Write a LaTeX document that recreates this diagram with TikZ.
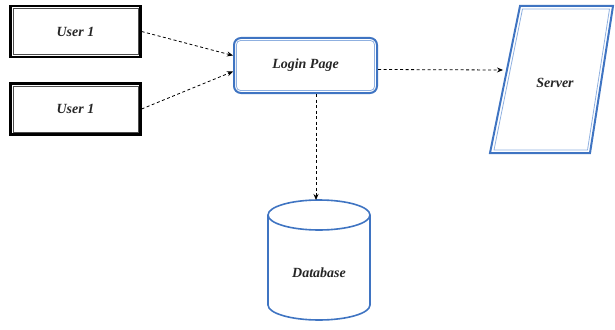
\documentclass[tikz,border=0pt]{standalone}
\usepackage{fontspec}
\setmainfont{Liberation Serif}
\usetikzlibrary{arrows.meta}
\definecolor{bl}{HTML}{3F74C2}
\definecolor{lightbl}{HTML}{8FB0E0}
\tikzset{
  lbl/.style={font=\bfseries\itshape\fontsize{14}{16}\selectfont, text=black!85},
  userbox/.style={draw=black, line width=2.2pt, minimum width=130pt, minimum height=51pt, lbl},
  loginbox/.style={draw=bl, line width=2pt, rounded corners=7pt, minimum width=143pt, minimum height=55pt, lbl},
  conn/.style={-{Stealth[length=6pt,width=5pt]}, dash pattern=on 3pt off 2.5pt, line width=0.8pt},
}
\begin{document}
\begin{tikzpicture}[x=1pt,y=1pt]
\useasboundingbox (0,0) rectangle (615,-329);
% users
\node[userbox] (u1) at (75.5,-31.5) {User 1};
\node[userbox] (u2) at (75.5,-109) {User 1};
\foreach \n in {u1,u2}{
  \draw[black!70, line width=0.7pt] ([shift={(3.5pt,-3.5pt)}]\n.north west) rectangle ([shift={(-3.5pt,3.5pt)}]\n.south east);
}
% login
\node[loginbox] (lp) at (305.5,-65.5) {Login Page};
\draw[draw=lightbl, line width=0.8pt, rounded corners=4pt] ([shift={(3.5pt,-3.5pt)}]lp.north west) rectangle ([shift={(-3.5pt,3.5pt)}]lp.south east);
% server
\node[lbl] (srv) at (555,-83) {Server};
\draw[bl, line width=2pt, line join=miter] (520,-6) -- (613,-6) -- (590,-153) -- (490,-153) -- cycle;
\draw[lightbl, line width=0.8pt] (522.5,-9) -- (609.5,-9) -- (587.5,-150) -- (494,-150) -- cycle;
\coordinate (srvin) at (503,-70);
% database
\draw[bl, line width=1.6pt] (268,-215) -- (268,-305) arc[start angle=180, end angle=360, x radius=51, y radius=15] -- (370,-215);
\draw[bl, line width=1.6pt] (319,-215) ellipse [x radius=51, y radius=15];
\node[lbl] (db) at (319,-273) {Database};
\coordinate (dbtop) at (316,-200);
% connectors
\draw[conn] (u1.east) -- ([yshift=10pt]lp.west);
\draw[conn] (u2.east) -- ([yshift=-6pt]lp.west);
\draw[conn] ([yshift=-4pt]lp.east) -- (srvin);
\draw[conn] (lp.south -| dbtop) -- (dbtop);
\end{tikzpicture}
\end{document}
